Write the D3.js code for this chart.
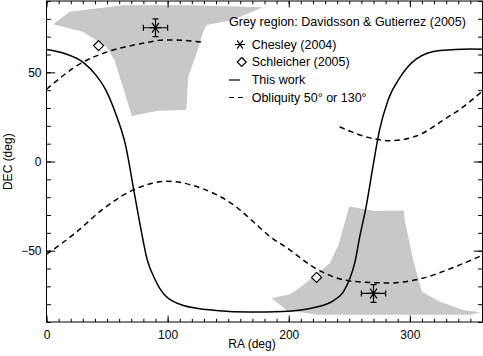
<!DOCTYPE html>
<html>
<head>
<meta charset="utf-8">
<script src="https://cdn.jsdelivr.net/npm/d3@7"></script>
<style>
body { margin: 0; background: white; }
svg { display: block; }
text { font-family: "Liberation Sans", Arial, sans-serif; fill: black; }
</style>
</head>
<body>
<div id="chart"></div>
<script>
// solution curve (This work)
var solidRA  = [0, 16, 30, 41, 49, 57, 65.5, 72, 78, 83, 89.5, 98, 113, 140, 168, 195, 223, 237, 245, 250.5, 254.5, 258.7, 264, 270, 275, 282, 292, 305.5, 325, 350, 360];
var solidDEC = [62.8, 60.3, 55.7, 48.3, 40, 27, 8.5, -15.8, -38, -54.7, -66, -75.2, -80.7, -83.5, -84.4, -84.1, -81.6, -78, -73.3, -65.5, -57, -42, -25, -1, 17.7, 34.4, 47.3, 57.6, 62.2, 63.1, 63];

// obliquity 50 / 130 deg curves (dashed)
var lowRA  = [0, 24, 46, 72, 100, 127, 154, 176, 184, 198, 223, 253, 283.5, 308, 336, 360];
var lowDEC = [-52, -40, -27, -15.8, -11.1, -14.8, -24.1, -37, -41.8, -48.2, -60.3, -67.2, -68.1, -65.9, -59.4, -52.5];
var highRA1  = [0, 30, 49, 76.5, 98.5, 104.5, 130];
var highDEC1 = [40.5, 55.7, 61.2, 65.9, 68.1, 68.1, 66.8];
var highRA2  = [242, 261.5, 283.5, 305.5, 327.5, 344, 360];
var highDEC2 = [19.5, 14.3, 11.7, 14.3, 23.2, 30.6, 39.5];

// grey regions, Davidsson & Gutierrez (2005)
var greyNorth = [[5.5, 77], [19, 84], [63, 87.6], [120, 87.6], [178.5, 86.5], [154, 79.3], [132, 76.5], [129, 72], [124, 60.7], [117, 47.5], [115.5, 28.9], [92, 28.5], [70.5, 25.5], [63, 42], [56, 57], [49.5, 64.4], [30, 72.8]];
var greySouth = [[186, -76.7], [201, -74.5], [209, -71], [234, -57], [241, -46.8], [250, -25.3], [271, -27.7], [295, -27.5], [296, -33.7], [303, -56], [310, -73], [325, -78.6], [344, -83.3], [358, -84.6], [350, -86], [223, -86], [198, -83.3]];

// other pole determinations
var chesleyRA = [90, 270];
var chesleyDEC = [75, -74];
var chesleyErrRA = 10;
var chesleyErrDEC = 5;
var schleicherRA = [43, 223];
var schleicherDEC = [65, -65];

var xTicks = [0, 100, 200, 300];
var yTicks = [-50, 0, 50];

var width = 483, height = 356;

var svg = d3.select("#chart").append("svg")
    .attr("width", width)
    .attr("height", height);

var x = d3.scaleLinear().domain([0, 360]).range([46.5, 482.5]);
var y = d3.scaleLinear().domain([-90, 90]).range([322, 1]);

// grey regions first so everything draws on top
var area = d3.line().x(d => x(d[0])).y(d => y(d[1]));
[greyNorth, greySouth].forEach(function(poly) {
    svg.append("path")
        .attr("d", area(poly) + "Z")
        .attr("fill", "#c8c8c8")
        .attr("stroke", "none");
});

// curves
function drawCurve(ra, dec, dash) {
    var pts = ra.map((r, i) => [r, dec[i]]);
    var line = d3.line().x(d => x(d[0])).y(d => y(d[1])).curve(d3.curveMonotoneX);
    svg.append("path")
        .attr("d", line(pts))
        .attr("fill", "none")
        .attr("stroke", "black")
        .attr("stroke-width", 1.5)
        .attr("stroke-dasharray", dash ? "5.5,4" : null);
}
drawCurve(solidRA, solidDEC, false);
drawCurve(lowRA, lowDEC, true);
drawCurve(highRA1, highDEC1, true);
drawCurve(highRA2, highDEC2, true);

// star symbol (IDL asterisk)
function star(g, cx, cy, r) {
    var a = 55 * Math.PI / 180;
    g.append("path")
        .attr("d", `M${cx - r},${cy}L${cx + r},${cy}` +
            `M${cx - r * Math.cos(a)},${cy - r * Math.sin(a)}L${cx + r * Math.cos(a)},${cy + r * Math.sin(a)}` +
            `M${cx - r * Math.cos(a)},${cy + r * Math.sin(a)}L${cx + r * Math.cos(a)},${cy - r * Math.sin(a)}`)
        .attr("stroke", "black")
        .attr("stroke-width", 1.2)
        .attr("fill", "none");
}
function diamond(g, cx, cy, r) {
    g.append("path")
        .attr("d", `M${cx},${cy - r}L${cx + r},${cy}L${cx},${cy + r}L${cx - r},${cy}Z`)
        .attr("stroke", "black")
        .attr("stroke-width", 1.2)
        .attr("fill", "white");
}

// Chesley with error bars
chesleyRA.forEach(function(r, i) {
    var cx = x(r), cy = y(chesleyDEC[i]);
    var x0 = x(r - chesleyErrRA), x1 = x(r + chesleyErrRA);
    var y0 = y(chesleyDEC[i] - chesleyErrDEC), y1 = y(chesleyDEC[i] + chesleyErrDEC);
    svg.append("path")
        .attr("d", `M${x0},${cy}L${x1},${cy}M${x0},${cy - 3}L${x0},${cy + 3}M${x1},${cy - 3}L${x1},${cy + 3}` +
            `M${cx},${y0}L${cx},${y1}M${cx - 3},${y0}L${cx + 3},${y0}M${cx - 3},${y1}L${cx + 3},${y1}`)
        .attr("stroke", "black")
        .attr("stroke-width", 1.2)
        .attr("fill", "none");
    star(svg, cx, cy, 6);
});

// Schleicher
schleicherRA.forEach(function(r, i) {
    diamond(svg, x(r), y(schleicherDEC[i]), 5);
});

// axes: ticks point inside the box
function addAxis(axis, tx, ty) {
    var g = svg.append("g").attr("transform", `translate(${tx},${ty})`).call(axis);
    g.select(".domain").remove();
    g.selectAll("line").attr("stroke", "black").attr("stroke-width", 1);
    g.selectAll("text").attr("font-size", 12).attr("font-family", null).attr("fill", "black");
    return g;
}
var minorX = d3.range(0, 361, 10);
var minorY = d3.range(-90, 91, 10);

addAxis(d3.axisBottom(x).tickValues(minorX).tickFormat("").tickSizeInner(-3.2).tickSizeOuter(0), 0, 322);
addAxis(d3.axisBottom(x).tickValues(xTicks).tickFormat(d3.format("d")).tickSizeInner(-6.4).tickSizeOuter(0).tickPadding(8.5), 0, 322);
addAxis(d3.axisTop(x).tickValues(minorX).tickFormat("").tickSizeInner(-3.2).tickSizeOuter(0), 0, 1);
addAxis(d3.axisTop(x).tickValues(xTicks).tickFormat("").tickSizeInner(-6.4).tickSizeOuter(0), 0, 1);

addAxis(d3.axisLeft(y).tickValues(minorY).tickFormat("").tickSizeInner(-4.4).tickSizeOuter(0), 46.5, 0);
addAxis(d3.axisLeft(y).tickValues(yTicks).tickFormat(d3.format("d")).tickSizeInner(-8.7).tickSizeOuter(0).tickPadding(5), 46.5, 0);
addAxis(d3.axisRight(y).tickValues(minorY).tickFormat("").tickSizeInner(-4.4).tickSizeOuter(0), 482.5, 0);
addAxis(d3.axisRight(y).tickValues(yTicks).tickFormat("").tickSizeInner(-8.7).tickSizeOuter(0), 482.5, 0);

// frame
svg.append("rect")
    .attr("x", 46.5).attr("y", 1)
    .attr("width", 436).attr("height", 321)
    .attr("fill", "none")
    .attr("stroke", "black")
    .attr("stroke-width", 1);

// axis titles
svg.append("text")
    .attr("x", 252).attr("y", 348)
    .attr("text-anchor", "middle")
    .attr("font-size", 12)
    .text("RA (deg)");
svg.append("text")
    .attr("transform", "translate(12,161.7) rotate(-90)")
    .attr("text-anchor", "middle")
    .attr("font-size", 12)
    .text("DEC (deg)");

// legend
var leg = svg.append("g").attr("font-size", 12.5);
leg.append("text").attr("x", 229).attr("y", 22).attr("dy", "0.35em")
    .text("Grey region: Davidsson & Gutierrez (2005)");
star(leg, 240, 44.5, 5);
leg.append("text").attr("x", 251.7).attr("y", 44.5).attr("dy", "0.35em").text("Chesley (2004)");
diamond(leg, 241.7, 62, 4.5);
leg.append("text").attr("x", 251.7).attr("y", 62).attr("dy", "0.35em").text("Schleicher (2005)");
leg.append("line").attr("x1", 229).attr("x2", 240).attr("y1", 80).attr("y2", 80)
    .attr("stroke", "black").attr("stroke-width", 1.2);
leg.append("text").attr("x", 251.7).attr("y", 80).attr("dy", "0.35em").text("This work");
leg.append("line").attr("x1", 229).attr("x2", 244).attr("y1", 97.5).attr("y2", 97.5)
    .attr("stroke", "black").attr("stroke-width", 1.2).attr("stroke-dasharray", "5,4");
leg.append("text").attr("x", 251.7).attr("y", 97.5).attr("dy", "0.35em").text("Obliquity 50° or 130°");
</script>
</body>
</html>
